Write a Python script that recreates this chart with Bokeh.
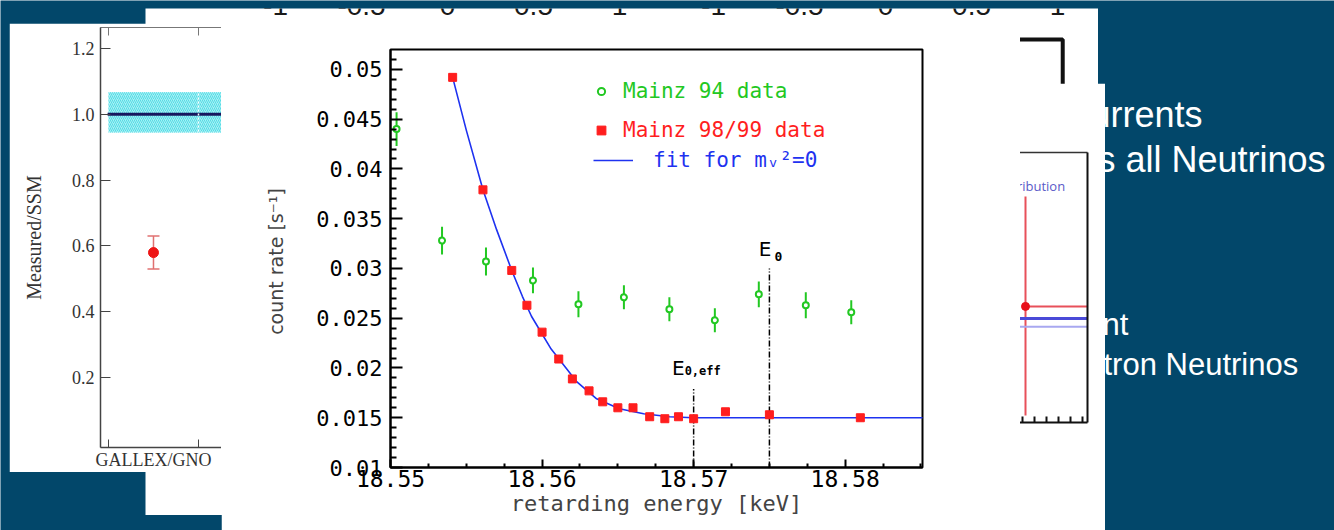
from bokeh.plotting import figure
from bokeh.models import (Range1d, FixedTicker, CustomJSTickFormatter, LinearAxis, Legend,
                          LegendItem, ColumnDataSource, Whisker, TeeHead, Grid)
from bokeh.core.properties import value
from bokeh.embed import file_html
from bokeh.resources import INLINE

# ---------------- data ----------------
# Mainz 94 data (open green circles with error bars)
mainz94_E = [18.5504, 18.5534, 18.5563, 18.5594, 18.5624, 18.5654, 18.5684, 18.5714, 18.5743, 18.5774, 18.5804]
mainz94_rate = [0.0440, 0.0328, 0.0307, 0.0288, 0.0264, 0.0271, 0.0259, 0.0248, 0.0274, 0.0263, 0.0256]
mainz94_err = [0.0017, 0.0014, 0.0014, 0.0013, 0.0013, 0.0012, 0.0012, 0.0012, 0.0013, 0.0013, 0.0012]

# Mainz 98/99 data (red squares)
mainz98_E = [18.5541, 18.5561, 18.5580, 18.5590, 18.5600, 18.5611, 18.5620, 18.5631, 18.5640,
             18.5650, 18.5660, 18.5671, 18.5681, 18.5690, 18.5700, 18.5721, 18.5750, 18.5810]
mainz98_rate = [0.0492, 0.0379, 0.0298, 0.0263, 0.0236, 0.0209, 0.0189, 0.0177, 0.0166,
                0.0160, 0.0160, 0.0151, 0.0149, 0.0151, 0.0149, 0.0156, 0.0153, 0.0150]

# fit for m_nu^2 = 0
fit_E = [18.5541, 18.5550, 18.5561, 18.5570, 18.5580, 18.5587, 18.5593, 18.5606, 18.5623,
         18.5636, 18.5651, 18.5667, 18.5684, 18.5700, 18.5860]
fit_rate = [0.0492, 0.0439, 0.0379, 0.0339, 0.0298, 0.0272, 0.0252, 0.0219, 0.0186,
            0.0169, 0.0159, 0.0154, 0.0151, 0.0150, 0.0150]

# endpoint markers
endpoint_E = [18.5700, 18.5750]
endpoint_top = [0.0179, 0.0300]
endpoint_bottom = [0.0100, 0.0100]

mainz_x_ticks = [18.55, 18.56, 18.57, 18.58]
mainz_x_minor = [18.5525, 18.555, 18.5575, 18.5625, 18.565, 18.5675, 18.5725, 18.575, 18.5775, 18.5825, 18.585]
mainz_y_ticks = [0.01, 0.015, 0.02, 0.025, 0.03, 0.035, 0.04, 0.045, 0.05]
mainz_y_minor = [0.011, 0.012, 0.013, 0.014, 0.016, 0.017, 0.018, 0.019, 0.021, 0.022, 0.023, 0.024,
                 0.026, 0.027, 0.028, 0.029, 0.031, 0.032, 0.033, 0.034, 0.036, 0.037, 0.038, 0.039,
                 0.041, 0.042, 0.043, 0.044, 0.046, 0.047, 0.048, 0.049, 0.051]

# GALLEX/GNO measured / SSM
gallex_categories = ["GALLEX/GNO"]
gallex_pos = [1]
gallex_ratio = [0.58]
gallex_lo = [0.53]
gallex_hi = [0.63]
ssm_value = [1.0]
ssm_lo = [0.945]
ssm_hi = [1.067]
gallex_y_ticks = [0.2, 0.4, 0.6, 0.8, 1.0, 1.2]

# partially hidden angular plot (top strip) tick labels
cos_ticks = [-1, -0.5, 0, 0.5, 1]
cos_labels = ["-1", "-0.5", "0", "0.5", "1"]

# partially hidden SNO flux plot
sno_cc_x = [1.65]
sno_cc_lo = [0.21]
sno_cc_hi = [6.70]
sno_nc_y = [3.44]
sno_blue_y = [3.08]
sno_blue_light_y = [2.84]

BLUE_BG = "#02476A"
MONO = "DejaVu Sans Mono"


def bare(**kw):
    f = figure(output_backend="svg", toolbar_location=None, x_axis_type=None, y_axis_type=None,
               title=None, **kw)
    f.xgrid.visible = False
    f.ygrid.visible = False
    return f


# ---------------- background slide ----------------
bg = bare(width=1334, height=530, x_range=Range1d(0, 1334), y_range=Range1d(530, 0),
          min_border=0, background_fill_color=BLUE_BG, border_fill_color=BLUE_BG,
          outline_line_color=None)
bg.text(x=[1090, 1097], y=[114, 159], text=["urrents", "s all Neutrinos"],
        text_font=value("Liberation Sans"), text_font_size="36px", text_color="white",
        text_baseline="middle", text_align="left")
bg.text(x=[1102, 1103], y=[324, 364], text=["nt", "tron Neutrinos"],
        text_font=value("Liberation Sans"), text_font_size="31px", text_color="white",
        text_baseline="middle", text_align="left")

# ---------------- panel 2 (mostly hidden) ----------------
p2 = bare(width=953, height=507, x_range=Range1d(-1.756, 3.785), y_range=Range1d(507, 0),
          min_border=0, background_fill_color="white", border_fill_color="white",
          outline_line_color=None)
p2.extra_x_ranges = {"right": Range1d(-4.302, 1.238)}
for rng in ("default", "right"):
    p2.text(x=cos_ticks, y=[-3] * len(cos_ticks), text=cos_labels, text_align="center",
            text_baseline="middle", text_font=value("Liberation Sans"), text_font_size="28px",
            text_color="#1a1a1a", x_range_name=rng)
p2.quad(left=[-1.2], right=[1.03], top=[31], bottom=[440], fill_color=None,
        line_color="#111111", line_width=4, x_range_name="right")

# ---------------- SNO panel (mostly hidden) ----------------
sno = bare(width=86, height=447, x_range=Range1d(1.55, 2.683), y_range=Range1d(0, 8),
           min_border_left=0, min_border_right=18, min_border_top=69, min_border_bottom=108,
           background_fill_color="white", border_fill_color="white", outline_line_color=None)
sno.add_layout(LinearAxis(ticker=FixedTicker(ticks=[], minor_ticks=[1.6, 1.8, 2.0, 2.2, 2.4, 2.6]),
                          minor_tick_in=6, minor_tick_out=0, axis_line_width=2,
                          axis_line_color="#111111", minor_tick_line_width=2,
                          minor_tick_line_color="#111111"), "below")
sno.add_layout(LinearAxis(ticker=FixedTicker(ticks=[]), axis_line_width=2, axis_line_color="#111111"), "right")
sno.add_layout(LinearAxis(ticker=FixedTicker(ticks=[]), axis_line_width=1.5, axis_line_color="#333333"), "above")
sno.segment(x0=sno_cc_x, y0=sno_cc_lo, x1=sno_cc_x, y1=sno_cc_hi, line_color="#E8505A", line_width=2)
sno.segment(x0=sno_cc_x, y0=sno_nc_y, x1=[3.0], y1=sno_nc_y, line_color="#E8505A", line_width=2)
sno.segment(x0=[1.0], y0=sno_blue_y, x1=[3.0], y1=sno_blue_y, line_color="#4A4AD8", line_width=3)
sno.segment(x0=[1.0], y0=sno_blue_light_y, x1=[3.0], y1=sno_blue_light_y, line_color="#A8A8F0", line_width=2)
sno.scatter(x=sno_cc_x, y=sno_nc_y, size=8, color="#E8101A")
sno.text(x=[2.31], y=[7.0], text=["distribution"], text_align="right", text_baseline="middle",
         text_font=value("Open Sans"), text_font_size="13px", text_color="#5A5AC8")

# ---------------- GALLEX panel ----------------
ga = bare(width=212, height=449, x_range=Range1d(0.411, 1.756), y_range=Range1d(-0.012, 1.2636),
          min_border_left=91, min_border_right=0, min_border_top=4, min_border_bottom=24,
          background_fill_color="white", border_fill_color="white", outline_line_color=None)
ga.quad(left=[0.5], right=[3.0], bottom=ssm_lo, top=ssm_hi, fill_color="#A6F0F4", line_color=None,
        hatch_pattern="right_diagonal_line", hatch_color="#55DCE6", hatch_scale=4, hatch_weight=1)
ga.add_layout(Grid(dimension=0, ticker=FixedTicker(ticks=[1.5]), grid_line_color="white",
                   grid_line_dash="2 2", grid_line_width=1.5, level="glyph"))
ga.segment(x0=[0.49], y0=ssm_value, x1=[3.0], y1=ssm_value, line_color="#17175E", line_width=3)
gsrc = ColumnDataSource(dict(x=gallex_pos, y=gallex_ratio, lo=gallex_lo, hi=gallex_hi))
ga.add_layout(Whisker(source=gsrc, base="x", upper="hi", lower="lo", line_color="#E07070", line_width=1.5,
                      upper_head=TeeHead(size=12, line_color="#E07070", line_width=1.5),
                      lower_head=TeeHead(size=12, line_color="#E07070", line_width=1.5)))
ga.scatter("x", "y", source=gsrc, size=10, color="#EE1515")
gyax = LinearAxis(ticker=FixedTicker(ticks=gallex_y_ticks),
                  formatter=CustomJSTickFormatter(code="return tick.toFixed(1)"),
                  major_tick_in=10, major_tick_out=0, minor_tick_out=0, minor_tick_in=0,
                  major_label_text_font="Liberation Serif", major_label_text_font_size="18px",
                  major_label_text_color="#333333", major_label_standoff=6,
                  axis_line_color="#444444", axis_line_width=1.5, major_tick_line_color="#444444",
                  axis_label="Measured/SSM", axis_label_text_font="Liberation Serif",
                  axis_label_text_font_size="20px", axis_label_text_font_style="normal",
                  axis_label_text_color="#333333", axis_label_standoff=24)
ga.add_layout(gyax, "left")
gxax = LinearAxis(ticker=FixedTicker(ticks=gallex_pos, minor_ticks=[0.5, 1.5]),
                  formatter=CustomJSTickFormatter(args=dict(names=gallex_categories),
                                                  code="return names[Math.round(tick) - 1] || ''"),
                  major_tick_in=0, major_tick_out=0, minor_tick_in=8, minor_tick_out=0,
                  major_label_text_font="Liberation Serif", major_label_text_font_size="18px",
                  major_label_text_color="#333333", major_label_standoff=2,
                  axis_line_color="#444444", axis_line_width=1.5, minor_tick_line_color="#444444")
ga.add_layout(gxax, "below")
ga.add_layout(LinearAxis(ticker=FixedTicker(ticks=[], minor_ticks=[0.5, 1.5]), minor_tick_in=8,
                         minor_tick_out=0, axis_line_color="#777777", axis_line_width=1,
                         minor_tick_line_color="#777777"), "above")

# ---------------- Mainz panel ----------------
mz = bare(width=799, height=507, x_range=Range1d(18.55, 18.5851), y_range=Range1d(0.01, 0.052),
          min_border_left=169, min_border_right=98, min_border_top=26, min_border_bottom=63,
          background_fill_color="white", border_fill_color="white",
          outline_line_color="black", outline_line_width=2)
fmt = CustomJSTickFormatter(code="return parseFloat(tick.toFixed(4)).toString()")
mxax = LinearAxis(ticker=FixedTicker(ticks=mainz_x_ticks, minor_ticks=mainz_x_minor), formatter=fmt,
                  major_tick_in=8, major_tick_out=0, minor_tick_in=4, minor_tick_out=0,
                  major_tick_line_width=2, minor_tick_line_width=2, axis_line_width=2,
                  major_label_text_font=MONO, major_label_text_font_size="23px",
                  major_label_text_color="black", major_label_standoff=2,
                  axis_label="retarding energy [keV]", axis_label_text_font=MONO,
                  axis_label_text_font_size="22px", axis_label_text_font_style="normal",
                  axis_label_standoff=1)
mz.add_layout(mxax, "below")
myax = LinearAxis(ticker=FixedTicker(ticks=mainz_y_ticks, minor_ticks=mainz_y_minor), formatter=fmt,
                  major_tick_in=12, major_tick_out=0, minor_tick_in=6, minor_tick_out=0,
                  major_tick_line_width=2, minor_tick_line_width=2, axis_line_width=2,
                  major_label_text_font=MONO, major_label_text_font_size="22px",
                  major_label_text_color="black", major_label_standoff=8,
                  axis_label="count rate  [s\u207b\u00b9]", axis_label_text_font="DejaVu Sans",
                  axis_label_text_font_size="19px", axis_label_text_font_style="normal",
                  axis_label_standoff=26)
mz.add_layout(myax, "left")

# endpoint lines and labels
mz.segment(x0=endpoint_E, y0=endpoint_bottom, x1=endpoint_E, y1=endpoint_top,
           line_color="black", line_width=1.5, line_dash="6 2 1 2")
mz.text(x=endpoint_E[:1], y=endpoint_top[:1], text=["E"], text_align="right", text_baseline="middle",
        x_offset=-9, y_offset=-21, text_font=value("DejaVu Sans"), text_font_size="20px", text_color="black")
mz.text(x=endpoint_E[:1], y=endpoint_top[:1], text=["0,eff"], text_align="left", text_baseline="middle",
        x_offset=-9, y_offset=-18, text_font=value(MONO), text_font_size="12px",
        text_font_style="bold", text_color="black")
mz.text(x=endpoint_E[1:], y=endpoint_top[1:], text=["E"], text_align="right", text_baseline="middle",
        x_offset=2, y_offset=-19, text_font=value("DejaVu Sans"), text_font_size="20px", text_color="black")
mz.text(x=endpoint_E[1:], y=endpoint_top[1:], text=["0"], text_align="left", text_baseline="middle",
        x_offset=5, y_offset=-12, text_font=value(MONO), text_font_size="13px",
        text_font_style="bold", text_color="black")

GREEN = "#22C822"
RED = "#FF1E1E"
FITBLUE = "#1E32F0"

r_fit = mz.line(fit_E, fit_rate, line_color=FITBLUE, line_width=1.6)
src94 = ColumnDataSource(dict(x=mainz94_E, y=mainz94_rate,
                              lo=[r - e for r, e in zip(mainz94_rate, mainz94_err)],
                              hi=[r + e for r, e in zip(mainz94_rate, mainz94_err)]))
mz.segment(x0="x", y0="lo", x1="x", y1="hi", source=src94, line_color=GREEN, line_width=2)
r94 = mz.scatter("x", "y", source=src94, marker="circle", size=6, fill_color="white",
                 line_color=GREEN, line_width=2)
r98 = mz.scatter(mainz98_E, mainz98_rate, marker="square", size=8, color=RED)

leg_common = dict(padding=0, spacing=0, margin=0, border_line_color=None, background_fill_alpha=0,
                  label_text_font=MONO, label_text_font_size="21px", glyph_height=26, label_height=26)
mz.add_layout(Legend(items=[LegendItem(label="Mainz 94 data", renderers=[r94])], location=(202, 363),
                     glyph_width=18, label_standoff=13, label_text_color=GREEN, **leg_common), "center")
mz.add_layout(Legend(items=[LegendItem(label="Mainz 98/99 data", renderers=[r98])], location=(200, 324),
                     glyph_width=22, label_standoff=11, label_text_color=RED, **leg_common), "center")
mz.add_layout(Legend(items=[LegendItem(label="fit for m\u1d65\u00b2=0", renderers=[r_fit])], location=(203, 294),
                     glyph_width=40, label_standoff=20, label_text_color=FITBLUE, **leg_common), "center")

# ---------------- composite page: independent roots stacked by absolute position ----------------
placement = [(bg, 0, 0), (p2, 145, 8), (sno, 1019, 83), (ga, 9, 23), (mz, 221, 23)]
for fig, left, top in placement:
    fig.styles = {"position": "absolute", "left": f"{left}px", "top": f"{top}px"}

open("out.html", "w").write(file_html([f for f, _, _ in placement], INLINE))
